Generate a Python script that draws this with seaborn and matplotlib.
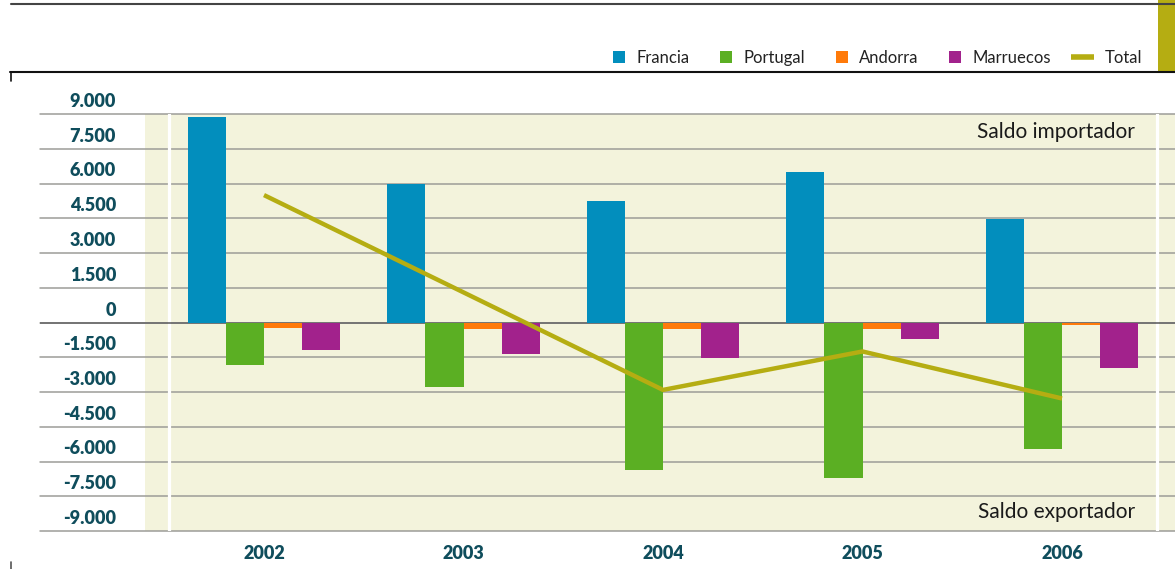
import numpy as np
import pandas as pd
import matplotlib
matplotlib.use("Agg")
import matplotlib.pyplot as plt
import seaborn as sns
from matplotlib.patches import Rectangle, Patch
from matplotlib.lines import Line2D
from matplotlib.legend_handler import HandlerPatch
from matplotlib.transforms import ScaledTranslation

# ---- data ----
years = ["2002", "2003", "2004", "2005", "2006"]
countries = ["Francia", "Portugal", "Andorra", "Marruecos"]
francia = [8850, 5980, 5250, 6510, 4480]
portugal = [-1830, -2780, -6380, -6710, -5440]
andorra = [-230, -270, -275, -275, -100]
marruecos = [-1180, -1340, -1530, -720, -1945]
total = [5500, 1300, -2910, -1250, -3280]
yticks = list(range(-9000, 9001, 1500))
ytick_labels = [f"{v:,}".replace(",", ".") for v in yticks]

colors = ["#028EBD", "#5BAF23", "#FF7A0A", "#A2228C"]
total_color = "#B5AD12"
beige = "#F3F3DC"
teal = "#0F4D5C"

series = [francia, portugal, andorra, marruecos]
df = pd.DataFrame({
    "year": np.repeat([years], len(countries), axis=0).ravel(),
    "country": np.repeat(countries, len(years)),
    "value": np.concatenate(series),
})

sns.set_style("white")
plt.rcParams["font.family"] = ["Lato", "DejaVu Sans"]

W, H = 1175, 569
fig = plt.figure(figsize=(W / 100, H / 100), dpi=100)
ax = fig.add_axes([40 / W, (H - 531) / H, (1175 - 40) / W, (531 - 114) / H])

sns.barplot(data=df, x="year", y="value", hue="country", hue_order=countries,
            order=years, palette=colors, width=0.762, saturation=1,
            errorbar=None, legend=False, linewidth=0, ax=ax, zorder=2)
sns.lineplot(x=np.arange(len(years)), y=total, color=total_color, lw=3.2,
             solid_capstyle="butt", ax=ax, zorder=4)

def px2x(p):
    return (p - 264) / 199.5

ax.set_xlim(px2x(40), px2x(1175))
ax.set_ylim(-9000, 9000)
ax.axvspan(px2x(145), px2x(1175), color=beige, zorder=0.1, lw=0)
for xp in (169, 1156.5):
    ax.axvline(px2x(xp), color="white", lw=2.3, zorder=0.8)

ax.set_yticks(yticks)
ax.set_yticklabels(ytick_labels)
ax.set_axisbelow(True)
ax.yaxis.grid(True, color="#9c9c98", lw=1.1)
ax.xaxis.grid(False)
for gl in ax.get_ygridlines():
    gl.set_clip_on(False)
ax.axhline(0, color="#707070", lw=1.3, zorder=0.9)

for s in ax.spines.values():
    s.set_visible(False)
ax.set_xlabel("")
ax.set_ylabel("")
ax.tick_params(axis="y", length=0, pad=-54.7, labelsize=13, labelcolor=teal)
ax.tick_params(axis="x", length=0, pad=20.2, labelsize=13, labelcolor=teal)
off = ScaledTranslation(0, 0.07, fig.dpi_scale_trans)
for lab in ax.get_yticklabels():
    lab.set_fontweight("heavy")
    lab.set_verticalalignment("baseline")
    lab.set_transform(lab.get_transform() + off)
for lab in ax.get_xticklabels():
    lab.set_fontweight("heavy")
    lab.set_verticalalignment("baseline")

ax.text((1135 - 40) / 1135, (531 - 138) / 417, "Saldo importador", transform=ax.transAxes,
        ha="right", va="baseline", fontsize=15, color="#1a1a1a")
ax.text((1135 - 40) / 1135, (531 - 518) / 417, "Saldo exportador", transform=ax.transAxes,
        ha="right", va="baseline", fontsize=15, color="#1a1a1a")


class SquareHandler(HandlerPatch):
    def create_artists(self, legend, orig_handle, xdescent, ydescent, width, height,
                       fontsize, trans):
        s = 12 * 0.72
        r = Rectangle((-xdescent + width - s, -ydescent + (height - s) / 2), s, s,
                      facecolor=orig_handle.get_facecolor(), edgecolor="none",
                      transform=trans)
        return [r]


handles = [Patch(facecolor=c, edgecolor="none") for c in colors]
handles.append(Line2D([0], [0], color=total_color, lw=4, solid_capstyle="butt"))
labels = countries + ["Total"]
fig.legend(handles, labels, loc="center left", bbox_to_anchor=(602 / W, 1 - 58 / H),
           ncol=5, frameon=False, fontsize=12, handlelength=1.38, handleheight=0.72,
           handletextpad=0.66, columnspacing=1.2, borderpad=0, borderaxespad=0,
           labelcolor="#222222", handler_map={Patch: SquareHandler()})

# decorative header lines and block
fig.add_artist(Line2D([11 / W, 1], [1 - 4 / H] * 2, color="#444444", lw=1.5))
fig.add_artist(Line2D([10 / W, 1], [1 - 72 / H] * 2, color="#111111", lw=1.5))
fig.add_artist(Line2D([10.5 / W] * 2, [1 - 72 / H, 1 - 81 / H], color="#111111", lw=1.2))
fig.add_artist(Line2D([11 / W] * 2, [0, 7 / H], color="#555555", lw=1.2))
fig.add_artist(Rectangle((1158 / W, 1 - 72 / H), 17 / W, 72 / H, transform=fig.transFigure,
                         facecolor=total_color, edgecolor="none"))

fig.savefig("out.png", dpi=100)
